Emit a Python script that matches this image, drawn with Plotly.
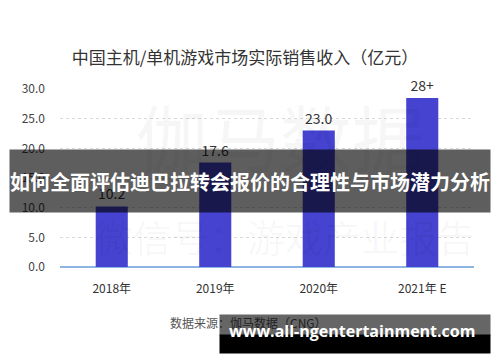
import plotly.graph_objects as go

categories = ["2018年", "2019年", "2020年", "2021年 E"]
values = [10.2, 17.6, 23.0, 28.5]
value_labels = ["10.2", "17.6", "23.0", "28+"]
y_ticks = [0, 5, 10, 15, 20, 25, 30]

title_text = "中国主机/单机游戏市场实际销售收入（亿元）"
banner_text = "如何全面评估迪巴拉转会报价的合理性与市场潜力分析"
source_text = "数据来源：伽马数据（CNG）"
url_text = "www.all-ngentertainment.com"
wm1 = "伽马数据"
wm2 = "微信号：游戏产业报告"

CJK = "Noto Sans CJK SC"

# plot area in pixels: x 60..474.5, y 89..267.3
L, R, T, B = 60, 25.5, 89, 94.7
PW = 500 - L - R
PH = 362 - T - B


def px(x):
    return (x - L) / PW


def py(y):
    return (362 - B - y) / PH


fig = go.Figure()
fig.add_trace(go.Bar(
    x=categories, y=values,
    width=0.31,
    marker=dict(color="#4543d0", line=dict(width=0)),
    text=value_labels, textposition="outside",
    textfont=dict(family=CJK, size=14, color="#333333"),
    cliponaxis=False,
))


def ann(text, x, y, **kw):
    d = dict(text=text, x=px(x), y=py(y), xref="paper", yref="paper",
             xanchor="center", yanchor="middle", showarrow=False)
    d.update(kw)
    return d


annotations = [
    ann(wm1, 280, 135, font=dict(family=CJK, size=72, color="rgba(0,0,0,0.035)")),
    ann(wm2, 285, 236, font=dict(family=CJK, size=38, color="rgba(0,0,0,0.035)")),
    ann(banner_text, 250.3, 181, width=480, height=62, bgcolor="rgba(0,0,0,0.63)",
        borderpad=0, valign="middle",
        font=dict(family=CJK, size=20, color="white", weight="bold")),
    ann(source_text, 168, 323, xanchor="left",
        font=dict(family=CJK, size=12, color="#555555")),
    ann(" ", 355.7, 325, width=270, height=20, bgcolor="rgba(0,0,0,0.6)", borderpad=0),
    ann(" ", 355.7, 344, width=270, height=18, bgcolor="#000000", borderpad=0),
    ann(url_text, 352, 331,
        font=dict(family="Open Sans", size=16, color="white", weight="bold")),
]

fig.update_layout(
    width=500, height=362,
    margin=dict(l=L, r=R, t=T, b=B),
    paper_bgcolor="white", plot_bgcolor="white",
    showlegend=False,
    title=dict(text=title_text, x=245 / 500, xref="container", xanchor="center",
               y=1 - 58 / 362, yref="container", yanchor="middle",
               font=dict(family=CJK, size=17, color="#333333")),
    xaxis=dict(showgrid=False, showline=False, ticks="", automargin=False,
               ticklabelstandoff=13,
               tickfont=dict(family=CJK, size=12, color="#333333")),
    yaxis=dict(range=[0, 30], tickvals=y_ticks, tickformat=".1f", automargin=False,
               showgrid=True, gridcolor="#d9d9d9", griddash="dot", gridwidth=1,
               zeroline=True, zerolinecolor="#8db4e2", zerolinewidth=1.5,
               showline=False, ticks="", ticklabelstandoff=14,
               tickfont=dict(family=CJK, size=12, color="#444444")),
    annotations=annotations,
)

fig.write_html("out.html", config={"displayModeBar": False},
               post_script="document.body.style.margin='0';")
